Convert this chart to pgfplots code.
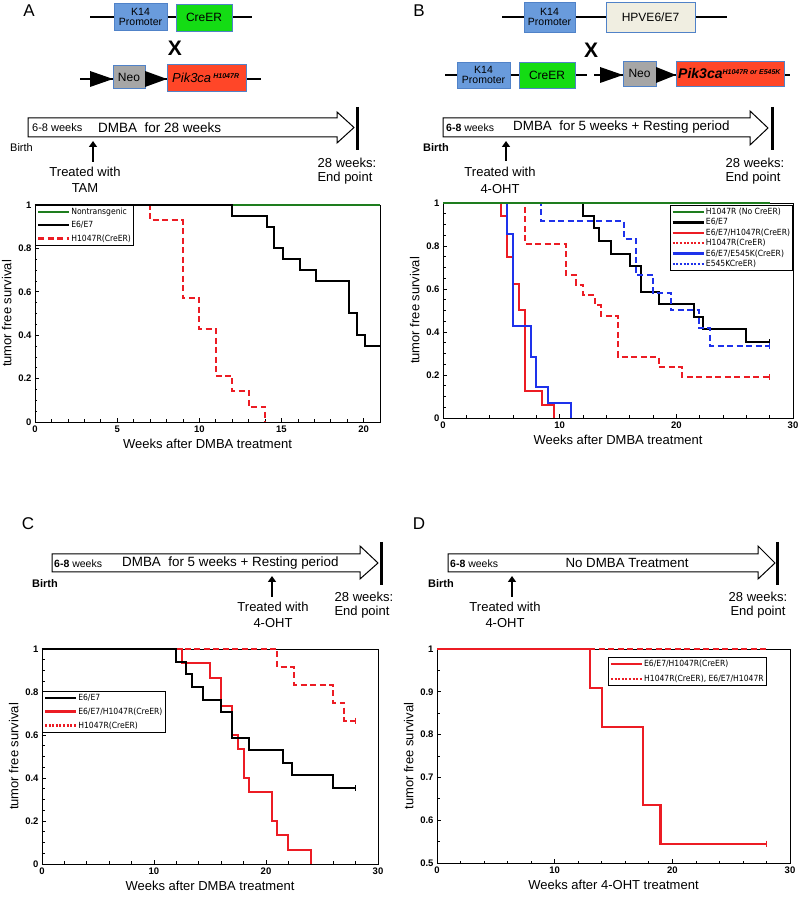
\documentclass[border=0pt]{standalone}
\usepackage{pgfplots}
\pgfplotsset{compat=1.18}
\usepackage{fontspec}
\setmainfont{Liberation Sans}
\newfontfamily\cond{DejaVu Sans Condensed}
\usetikzlibrary{arrows.meta}

\definecolor{kmgreen}{RGB}{30,125,30}
\definecolor{kmred}{RGB}{236,28,36}
\definecolor{kmblue}{RGB}{30,50,235}
\definecolor{kblue}{RGB}{105,155,220}
\definecolor{bborder}{RGB}{80,130,200}
\definecolor{cgreen}{RGB}{20,220,20}
\definecolor{neogray}{RGB}{166,166,166}
\definecolor{pikred}{RGB}{255,70,40}
\definecolor{hpv}{RGB}{240,238,225}

\pgfplotsset{
  kmaxis/.style={
    scale only axis,
    clip=false,
    axis line style={line width=0.9pt},
    tick style={black, line width=0.7pt},
    tick align=inside,
    xtick pos=bottom, ytick pos=left,
    major tick length=4pt, minor tick length=2.5pt,
    tick label style={font=\fontsize{9.5}{10}\selectfont\bfseries},
    /pgf/number format/assume math mode=true,
    label style={font=\fontsize{13}{15}\selectfont},
    ylabel={tumor free survival},
    minor y tick num=3, minor x tick num=4,
    legend style={draw=black, line width=0.8pt, font=\cond\fontsize{8.5}{9}\selectfont,
      inner sep=1.5pt, nodes={inner sep=1pt}},
    legend cell align=left,
    legend image code/.code={\draw[##1,line width=2.4pt] (0pt,0pt) -- (31pt,0pt);},
    every axis plot/.append style={line width=2pt, const plot},
  },
  kmdash/.style={dash pattern=on 6pt off 3.5pt},
  kmdot/.style={dash pattern=on 2pt off 1.6pt},
  cens/.style={only marks, mark=|, mark size=3pt, mark options={line width=1.3pt}, forget plot},
}

\begin{document}
\begin{tikzpicture}
\useasboundingbox (0pt,0pt) rectangle (800pt,899pt);

%% ================= diagrams =================
\begin{scope}[x=1pt,y=-1pt,yshift=899pt, every node/.style={inner sep=0pt, font=\fontsize{13}{15}\selectfont}]
% ---- Panel A ----
\node[font=\fontsize{17}{17}\selectfont] at (29,11) {A};
\draw[line width=1.3pt] (90,17) -- (252,17);
\draw[fill=kblue, draw=bborder, line width=0.8pt] (114,3) rectangle (167,30);
\node[font=\fontsize{10.5}{10}\selectfont, align=center] at (140.5,16.5) {K14\\Promoter};
\draw[fill=cgreen, draw=bborder, line width=0.8pt] (176,4) rectangle (232,31);
\node[font=\fontsize{12}{12}\selectfont] at (204,17.5) {CreER};
\node[font=\fontsize{21}{21}\selectfont\bfseries] at (175,48) {X};
\draw[line width=1.3pt] (80,79) -- (261,79);
\fill (90,71) -- (113,79) -- (90,87) -- cycle;
\draw[fill=neogray, draw=bborder, line width=0.8pt] (113,65) rectangle (145,88);
\node[font=\fontsize{12}{12}\selectfont] at (129,77) {Neo};
\fill (145,71) -- (167,79) -- (145,87) -- cycle;
\draw[fill=pikred, draw=bborder, line width=0.8pt] (167,64) rectangle (246,91);
\node[anchor=west, font=\fontsize{13}{13}\selectfont\itshape] at (172,78) {Pik3ca\,\raisebox{4pt}{\fontsize{7}{7}\selectfont\bfseries\itshape H1047R}};
\draw[line width=1pt, fill=white] (28,118) -- (337,118) -- (337,112) -- (354,127.5) -- (337,143) -- (337,137) -- (28,137) -- cycle;
\node[anchor=west, font=\fontsize{11}{11}\selectfont] at (32,128) {6-8 weeks};
\node[anchor=west, font=\fontsize{13.5}{14}\selectfont] at (98,127.5) {DMBA\ \ for 28 weeks};
\draw[line width=3pt] (357,107) -- (357,150);
\node[anchor=west, font=\fontsize{11}{11}\selectfont] at (10,147.5) {Birth};
\draw[line width=2.6pt, -{Triangle[length=6pt,width=8pt]}] (93,162) -- (93,141);
\node at (85,172) {Treated with};
\node at (85,188) {TAM};
\node at (347,163) {28 weeks:};
\node at (345,178) {End point};

% ---- Panel B ----
\node[font=\fontsize{17}{17}\selectfont] at (419,11) {B};
\draw[line width=1.3pt] (502,17) -- (727,17);
\draw[fill=kblue, draw=bborder, line width=0.8pt] (524,2) rectangle (575,32);
\node[font=\fontsize{10.5}{10}\selectfont, align=center] at (549.5,17) {K14\\Promoter};
\draw[fill=hpv, draw=bborder, line width=0.8pt] (606,2) rectangle (695,32);
\node[font=\fontsize{12}{12}\selectfont] at (650.5,17) {HPVE6/E7};
\node[font=\fontsize{21}{21}\selectfont\bfseries] at (591,50) {X};
\draw[line width=1.3pt] (445,75) -- (587,75);
\draw[line width=1.3pt] (594,75) -- (790,75);
\draw[fill=kblue, draw=bborder, line width=0.8pt] (457,62) rectangle (510,88);
\node[font=\fontsize{10.5}{10}\selectfont, align=center] at (483.5,75) {K14\\Promoter};
\draw[fill=cgreen, draw=bborder, line width=0.8pt] (519,62) rectangle (575,88);
\node[font=\fontsize{12}{12}\selectfont] at (547,75) {CreER};
\fill (600,67) -- (623,75) -- (600,83) -- cycle;
\draw[fill=neogray, draw=bborder, line width=0.8pt] (623,61) rectangle (656,86);
\node[font=\fontsize{12}{12}\selectfont] at (639.5,73.5) {Neo};
\fill (656,67) -- (676,75) -- (656,83) -- cycle;
\draw[fill=pikred, draw=bborder, line width=0.8pt] (676,61) rectangle (784,86);
\node[anchor=west, font=\fontsize{14}{14}\selectfont\bfseries\itshape] at (678,74) {Pik3ca\raisebox{4.5pt}{\fontsize{7}{7}\selectfont\bfseries\itshape H1047R or E545K}};
\draw[line width=1pt, fill=white] (443,118) -- (750,118) -- (750,111) -- (768,128) -- (750,145) -- (750,137) -- (443,137) -- cycle;
\node[anchor=west, font=\fontsize{10.5}{11}\selectfont] at (446,128) {\textbf{6-8} weeks};
\node[anchor=west, font=\fontsize{13.4}{14}\selectfont] at (513,127.5) {DMBA\ \ for 5 weeks + Resting period};
\draw[line width=3pt] (772,107) -- (772,150);
\node[anchor=west, font=\fontsize{11}{11}\selectfont\bfseries] at (423,148) {Birth};
\draw[line width=2.6pt, -{Triangle[length=6pt,width=8pt]}] (506,161) -- (506,141);
\node at (500,172) {Treated with};
\node at (500,189) {4-OHT};
\node at (755,163) {28 weeks:};
\node at (753,178) {End point};

% ---- Panel C ----
\node[font=\fontsize{17}{17}\selectfont] at (28,524) {C};
\draw[line width=1pt, fill=white] (52,554) -- (360,554) -- (360,546) -- (378,563) -- (360,579) -- (360,572) -- (52,572) -- cycle;
\node[anchor=west, font=\fontsize{10.5}{11}\selectfont] at (54,563.5) {\textbf{6-8} weeks};
\node[anchor=west, font=\fontsize{13.4}{14}\selectfont] at (122,563) {DMBA\ \ for 5 weeks + Resting period};
\draw[line width=3pt] (381,542) -- (381,585);
\node[anchor=west, font=\fontsize{11}{11}\selectfont\bfseries] at (32,584) {Birth};
\draw[line width=2.6pt, -{Triangle[length=6pt,width=8pt]}] (272,597) -- (272,576);
\node at (273,607) {Treated with};
\node at (273,623) {4-OHT};
\node at (364,597) {28 weeks:};
\node at (362,612) {End point};

% ---- Panel D ----
\node[font=\fontsize{17}{17}\selectfont] at (419,524) {D};
\draw[line width=1pt, fill=white] (448,554) -- (758,554) -- (758,546) -- (775,563) -- (758,579) -- (758,572) -- (448,572) -- cycle;
\node[anchor=west, font=\fontsize{10.5}{11}\selectfont] at (450,563.5) {\textbf{6-8} weeks};
\node[font=\fontsize{13.3}{14}\selectfont] at (627,563) {No DMBA Treatment};
\draw[line width=3pt] (777,542) -- (777,585);
\node[anchor=west, font=\fontsize{11}{11}\selectfont\bfseries] at (428,584) {Birth};
\draw[line width=2.6pt, -{Triangle[length=6pt,width=8pt]}] (512,597) -- (512,576);
\node at (505,607) {Treated with};
\node at (505,623) {4-OHT};
\node at (758,597) {28 weeks:};
\node at (758,612) {End point};
\end{scope}

%% ================= Panel A plot =================
\begin{axis}[kmaxis, at={(35pt,477pt)}, anchor=south west, width=345pt, height=217pt,
  xmin=0, xmax=21, ymin=0, ymax=1,
  xtick={0,5,10,15,20}, ytick={0,0.2,0.4,0.6,0.8,1},
  xlabel={Weeks after DMBA treatment},
  legend style={at={(0,1)}, anchor=north west, row sep=3.5pt}]
\addplot[kmgreen, forget plot] coordinates {(0,1) (21,1)};
\addplot[kmred, kmdash, forget plot] coordinates {(0,1) (7,0.929) (9,0.571) (10,0.429) (11,0.214) (12,0.143) (13,0.071) (14,0)};
\addplot[black, forget plot] coordinates {(0,1) (12,0.95) (14.1,0.9) (14.55,0.8) (15.1,0.75) (16.1,0.7) (17.1,0.65) (19.1,0.5) (19.6,0.4) (20.1,0.35) (21,0.35)};
\addlegendimage{kmgreen}\addlegendentry{Nontransgenic}
\addlegendimage{black}\addlegendentry{E6/E7}
\addlegendimage{kmred, kmdash}\addlegendentry{H1047R(CreER)}
\end{axis}

%% ================= Panel B plot =================
\begin{axis}[kmaxis, at={(443pt,481pt)}, anchor=south west, width=350pt, height=215pt,
  xmin=0, xmax=30, ymin=0, ymax=1,
  xtick={0,10,20,30}, ytick={0,0.2,0.4,0.6,0.8,1},
  xlabel={Weeks after DMBA treatment},
  legend style={at={(1,0.99)}, anchor=north east, row sep=0.5pt}]
\addplot[black, forget plot] coordinates {(0,1) (12,0.941) (12.9,0.882) (13.4,0.824) (14.4,0.765) (16,0.706) (17,0.588) (18.5,0.529) (21.5,0.471) (22.3,0.412) (26,0.353) (28,0.353)};
\addplot[black, cens] coordinates {(28,0.353)};
\addplot[kmred, kmdash, forget plot] coordinates {(0,1) (7,0.81) (10.5,0.667) (11.4,0.619) (12,0.571) (13,0.524) (13.5,0.476) (15,0.286) (18.5,0.238) (20.5,0.19) (28,0.19)};
\addplot[kmred, cens] coordinates {(28,0.19)};
\addplot[kmblue, kmdash, forget plot] coordinates {(0,1) (8.4,0.917) (15.5,0.833) (16.5,0.667) (18,0.583) (19.5,0.5) (21.9,0.417) (22.9,0.333) (28,0.333)};
\addplot[kmblue, cens] coordinates {(28,0.333)};
\addplot[kmred, forget plot] coordinates {(0,1) (5,0.9375) (5.5,0.75) (6,0.625) (6.5,0.5) (7,0.125) (8.5,0.0625) (9.5,0)};
\addplot[kmblue, forget plot] coordinates {(0,1) (5.5,0.857) (6,0.429) (7.5,0.286) (8,0.143) (9,0.071) (11,0)};
\addplot[kmgreen, forget plot] coordinates {(0,1) (28,1)};
\addlegendimage{kmgreen}\addlegendentry{H1047R (No CreER)}
\addlegendimage{black}\addlegendentry{E6/E7}
\addlegendimage{kmred}\addlegendentry{E6/E7/H1047R(CreER)}
\addlegendimage{kmred, kmdot}\addlegendentry{H1047R(CreER)}
\addlegendimage{kmblue}\addlegendentry{E6/E7/E545K(CreER)}
\addlegendimage{kmblue, kmdot}\addlegendentry{E545KCreER)}
\end{axis}

%% ================= Panel C plot =================
\begin{axis}[kmaxis, at={(42pt,35pt)}, anchor=south west, width=336pt, height=215pt,
  xmin=0, xmax=30, ymin=0, ymax=1,
  xtick={0,10,20,30}, ytick={0,0.2,0.4,0.6,0.8,1},
  xlabel={Weeks after DMBA treatment},
  legend style={at={(0,0.805)}, anchor=north west, row sep=4pt}]
\addplot[kmred, forget plot] coordinates {(0,1) (12.5,0.933) (15,0.867) (16,0.733) (17,0.6) (17.5,0.533) (18,0.4) (18.5,0.333) (20.5,0.2) (21,0.133) (22,0.067) (24,0)};
\addplot[kmred, kmdash, forget plot] coordinates {(0,1) (21,0.917) (22.5,0.833) (26,0.75) (27,0.667) (28,0.667)};
\addplot[kmred, cens] coordinates {(28,0.667)};
\addplot[black, forget plot] coordinates {(0,1) (12,0.941) (12.9,0.882) (13.4,0.824) (14.4,0.765) (16,0.706) (17,0.588) (18.5,0.529) (21.5,0.471) (22.3,0.412) (26,0.353) (28,0.353)};
\addplot[black, cens] coordinates {(28,0.353)};
\addlegendimage{black}\addlegendentry{E6/E7}
\addlegendimage{kmred}\addlegendentry{E6/E7/H1047R(CreER)}
\addlegendimage{kmred, kmdot}\addlegendentry{H1047R(CreER)}
\end{axis}

%% ================= Panel D plot =================
\begin{axis}[kmaxis, at={(437pt,36pt)}, anchor=south west, width=353pt, height=214pt,
  xmin=0, xmax=30, ymin=0.5, ymax=1,
  xtick={0,10,20,30}, ytick={0.5,0.6,0.7,0.8,0.9,1}, minor y tick num=1,
  xlabel={Weeks after 4-OHT treatment},
  legend style={at={(0.484,0.963)}, anchor=north west, row sep=5pt}]
\addplot[kmred, kmdash, forget plot] coordinates {(0,1) (28,1)};
\addplot[kmred, line width=2.4pt, forget plot] coordinates {(0,1) (13,0.909) (14,0.818) (17.5,0.636) (19,0.545) (28,0.545)};
\addplot[kmred, cens] coordinates {(28,0.545)};
\addlegendimage{kmred}\addlegendentry{E6/E7/H1047R(CreER)}
\addlegendimage{kmred, kmdot}\addlegendentry{H1047R(CreER), E6/E7/H1047R}
\end{axis}
\end{tikzpicture}
\end{document}
